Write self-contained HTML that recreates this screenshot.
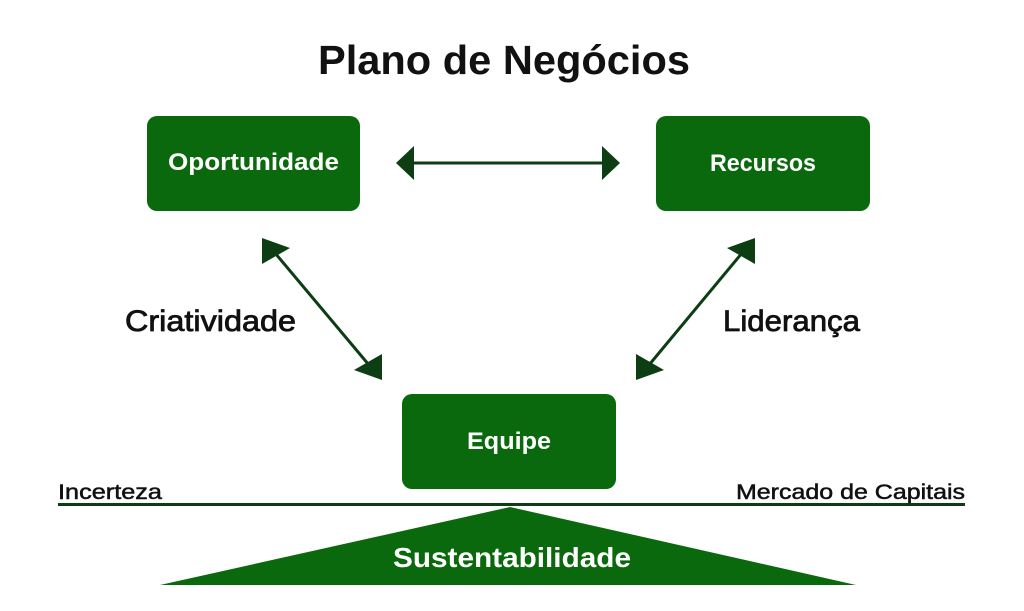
<!DOCTYPE html>
<html><head><meta charset="utf-8"><style>
html,body{margin:0;padding:0;background:#fff;}
svg{display:block;}
text{font-family:"Liberation Sans",sans-serif;font-weight:bold;}
</style></head><body>
<svg width="1024" height="611" viewBox="0 0 1024 611" xmlns="http://www.w3.org/2000/svg">
<rect width="1024" height="611" fill="#fff"/>
<text x="504" y="74" font-size="41" text-anchor="middle" fill="#111" textLength="372" lengthAdjust="spacingAndGlyphs">Plano de Negócios</text>

<rect x="147" y="116" width="213" height="95" rx="10" fill="#0a690c"/>
<text x="253.5" y="170" font-size="24" fill="#fff" text-anchor="middle" textLength="171" lengthAdjust="spacingAndGlyphs">Oportunidade</text>
<rect x="656" y="116" width="214" height="95" rx="10" fill="#0a690c"/>
<text x="763" y="171" font-size="24" fill="#fff" text-anchor="middle" textLength="106" lengthAdjust="spacingAndGlyphs">Recursos</text>
<rect x="402" y="394" width="214" height="95" rx="10" fill="#0a690c"/>
<text x="509" y="449" font-size="24" fill="#fff" text-anchor="middle" textLength="84" lengthAdjust="spacingAndGlyphs">Equipe</text>

<line x1="410" y1="163" x2="606" y2="163" stroke="#0d3d12" stroke-width="3"/>
<polygon points="396,163 414,146 414,180" fill="#0d3d12"/>
<polygon points="620,163 602,146 602,180" fill="#0d3d12"/>

<line x1="270" y1="247" x2="374" y2="371" stroke="#0d3d12" stroke-width="3"/>
<polygon points="262,238 290,248 262,264" fill="#0d3d12"/>
<polygon points="382,380 354,370 382,354" fill="#0d3d12"/>
<line x1="747" y1="247" x2="644" y2="371" stroke="#0d3d12" stroke-width="3"/>
<polygon points="755,238 727,248 755,264" fill="#0d3d12"/>
<polygon points="636,380 664,370 636,354" fill="#0d3d12"/>

<text x="125" y="331" font-size="30" fill="#111" textLength="171" lengthAdjust="spacingAndGlyphs" style="font-weight:normal;stroke:#111;stroke-width:0.8">Criatividade</text>
<text x="723" y="331" font-size="30" fill="#111" textLength="137" lengthAdjust="spacingAndGlyphs" style="font-weight:normal;stroke:#111;stroke-width:0.8">Liderança</text>

<text x="58" y="499" font-size="21" fill="#111" textLength="104" lengthAdjust="spacingAndGlyphs" style="font-weight:normal;stroke:#111;stroke-width:0.5">Incerteza</text>
<text x="965" y="499" font-size="21" fill="#111" text-anchor="end" textLength="229" lengthAdjust="spacingAndGlyphs" style="font-weight:normal;stroke:#111;stroke-width:0.5">Mercado de Capitais</text>
<rect x="58" y="503" width="907" height="3" fill="#0d3d12"/>

<polygon points="510,507 160,585 856,585" fill="#0a690c"/>
<text x="512" y="567" font-size="28" fill="#fff" text-anchor="middle" textLength="238" lengthAdjust="spacingAndGlyphs">Sustentabilidade</text>
</svg>
</body></html>
